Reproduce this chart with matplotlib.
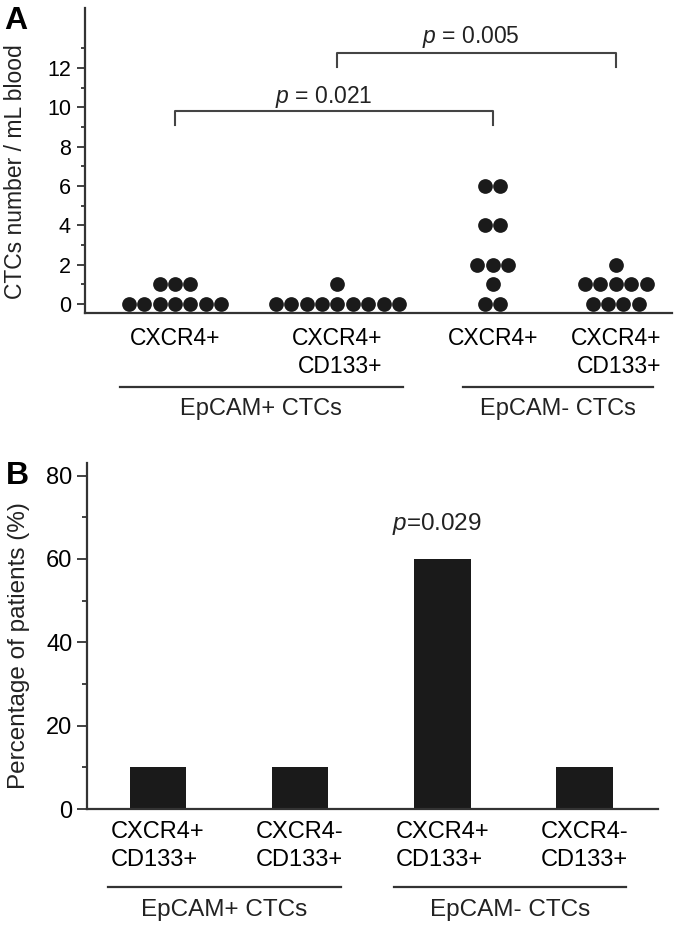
import numpy as np
import matplotlib.pyplot as plt
from matplotlib.transforms import blended_transform_factory

plt.rcParams['font.family'] = ['Liberation Sans', 'DejaVu Sans']
plt.rcParams['mathtext.fontset'] = 'custom'
plt.rcParams['mathtext.it'] = 'Liberation Sans:italic'
plt.rcParams['mathtext.rm'] = 'Liberation Sans'
plt.rcParams['text.color'] = '#222222'

# Panel A: CTCs number / mL blood, one value per patient
epcam_pos_cxcr4 = [0, 0, 0, 0, 0, 0, 0, 1, 1, 1]
epcam_pos_cxcr4_cd133 = [0, 0, 0, 0, 0, 0, 0, 0, 0, 1]
epcam_neg_cxcr4 = [0, 0, 1, 2, 2, 2, 4, 4, 6, 6]
epcam_neg_cxcr4_cd133 = [0, 0, 0, 0, 1, 1, 1, 1, 1, 2]
dot_groups = [epcam_pos_cxcr4, epcam_pos_cxcr4_cd133, epcam_neg_cxcr4, epcam_neg_cxcr4_cd133]
dot_labels = ['CXCR4+', 'CXCR4+\nCD133+', 'CXCR4+', 'CXCR4+\nCD133+']
dot_pos = [1.0, 2.01, 2.975, 3.74]
p_a = ['0.021', '0.005']

# Panel B: percentage of patients
bar_labels = ['CXCR4+\nCD133+', 'CXCR4-\nCD133+', 'CXCR4+\nCD133+', 'CXCR4-\nCD133+']
bar_pct = [10, 10, 60, 10]
p_b = '0.029'

group_names = ['EpCAM+ CTCs', 'EpCAM- CTCs']

W, H = 678, 927
fig = plt.figure(figsize=(W / 100, H / 100), dpi=100)


def fy(py):
    return 1 - py / H


dark = '#1a1a1a'
line_col = '#333333'


def style(ax, ytick_size, tick_len, pad):
    ax.spines[['top', 'right']].set_visible(False)
    for s in ('left', 'bottom'):
        ax.spines[s].set_linewidth(1.6)
        ax.spines[s].set_color(line_col)
    ax.tick_params(axis='y', which='major', direction='out', length=tick_len, width=1.3,
                   color=line_col, labelsize=ytick_size, pad=pad)
    ax.tick_params(axis='y', which='minor', direction='out', length=tick_len * 0.55,
                   width=1.3, color=line_col)
    ax.tick_params(axis='x', length=0)


# ---------------- panel A ----------------
ax1 = fig.add_axes([85 / W, fy(313), (672 - 85) / W, (313 - 8) / H])
style(ax1, 15.5, 5.8, 4.3)

step = 0.096
for x0, vals in zip(dot_pos, dot_groups):
    vals = np.array(vals)
    for v in np.unique(vals):
        n = int(np.sum(vals == v))
        xs = x0 + (np.arange(n) - (n - 1) / 2) * step
        ax1.plot(xs, [v] * n, 'o', ms=10.6, color=dark, mec='none', clip_on=False)

ax1.set_xlim(0.44, 4.09)
ax1.set_ylim(-0.46, 15.05)
ax1.set_yticks(np.arange(0, 13, 2))
ax1.set_yticks(np.arange(1, 14, 2), minor=True)
ax1.set_xticks(dot_pos, dot_labels, fontsize=16.5, linespacing=1.3)
for lbl in ax1.get_xticklabels():
    lbl.set_multialignment('right')
ax1.tick_params(axis='x', pad=10)
ax1.text(-0.119, 0.462, 'CTCs number / mL blood', transform=ax1.transAxes,
         rotation=90, ha='center', va='center', fontsize=16.5)


def bracket(ax, i, j, y, drop, label, ty, dx):
    x1, x2 = dot_pos[i], dot_pos[j]
    ax.plot([x1, x1, x2, x2], [y - drop, y, y, y - drop], color='#444444', lw=1.5)
    ax.text((x1 + x2) / 2 + dx, ty, '$p$ = ' + label, ha='center', va='baseline',
            fontsize=16.5)


bracket(ax1, 0, 2, 9.8, 0.7, p_a[0], 10.2, -0.065)
bracket(ax1, 1, 3, 12.78, 0.72, p_a[1], 13.27, -0.035)

# ---------------- panel B ----------------
ax2 = fig.add_axes([87 / W, fy(809), (658 - 87) / W, (809 - 463) / H])
style(ax2, 17, 7, 3.6)
bar_x = np.arange(1, len(bar_pct) + 1)
ax2.bar(bar_x, bar_pct, width=0.4, color=dark)
ax2.set_xlim(0.5, 4.52)
ax2.set_ylim(0, 83)
ax2.set_yticks(np.arange(0, 81, 20))
ax2.set_yticks(np.arange(10, 80, 20), minor=True)
ax2.set_xticks(bar_x, bar_labels, fontsize=17, linespacing=1.3)
for lbl in ax2.get_xticklabels():
    lbl.set_multialignment('left')
ax2.tick_params(axis='x', pad=9)
ax2.text(-0.119, 0.471, 'Percentage of patients (%)', transform=ax2.transAxes,
         rotation=90, ha='center', va='center', fontsize=17.5)
ax2.text(bar_x[2] - 0.04, bar_pct[2] + 8.4, '$p$=' + p_b, ha='center', va='center',
         fontsize=17.5)


# group brackets under the x labels
def group_line(ax, xa, xb, line_py):
    tr = blended_transform_factory(ax.transData, fig.transFigure)
    ax.plot([xa, xb], [fy(line_py)] * 2, transform=tr, color=line_col, lw=1.6,
            clip_on=False)
    return tr


trA = group_line(ax1, dot_pos[0] - 0.342, dot_pos[1] + 0.406, 387)
group_line(ax1, dot_pos[2] - 0.186, dot_pos[3] + 0.229, 387)
ax1.text((dot_pos[0] - 0.342 + dot_pos[1] + 0.406) / 2, fy(409), group_names[0],
         transform=trA, ha='center', va='center', fontsize=17)
ax1.text((dot_pos[2] - 0.186 + dot_pos[3] + 0.229) / 2, fy(409), group_names[1],
         transform=trA, ha='center', va='center', fontsize=17)

trB = group_line(ax2, bar_x[0] - 0.352, bar_x[1] + 0.289, 887)
group_line(ax2, bar_x[2] - 0.338, bar_x[3] + 0.296, 887)
ax2.text((bar_x[0] - 0.352 + bar_x[1] + 0.289) / 2, fy(910), group_names[0],
         transform=trB, ha='center', va='center', fontsize=17.5)
ax2.text((bar_x[2] - 0.338 + bar_x[3] + 0.296) / 2, fy(910), group_names[1],
         transform=trB, ha='center', va='center', fontsize=17.5)

# panel letters
fig.text(4 / W, fy(6), 'A', fontsize=23, fontweight='bold', va='top', ha='left',
         color='black')
fig.text(6 / W, fy(461), 'B', fontsize=23, fontweight='bold', va='top', ha='left',
         color='black')

fig.savefig('out.png', dpi=100)
